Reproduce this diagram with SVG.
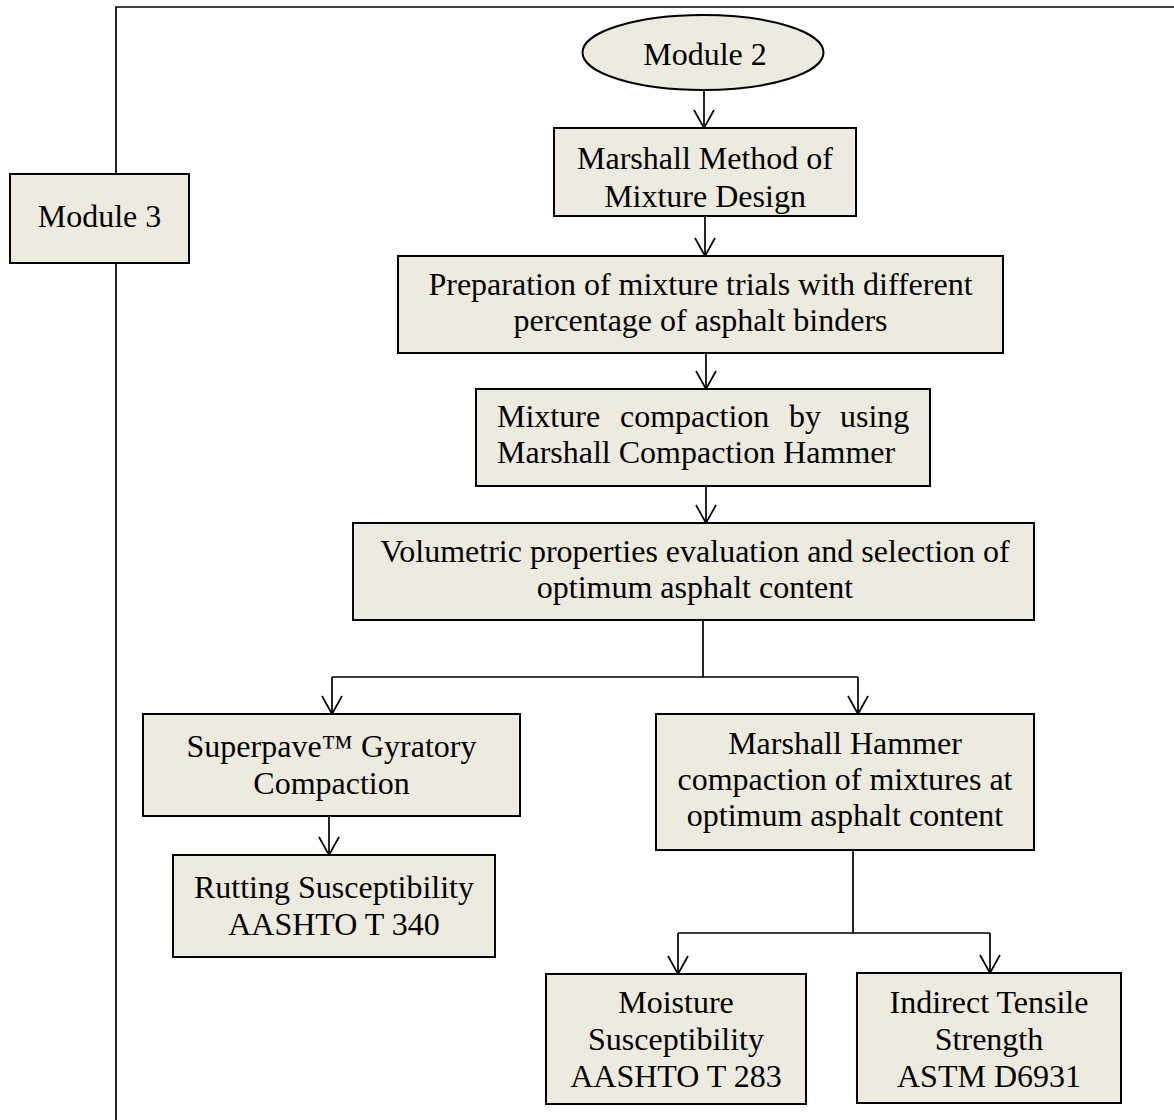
<svg xmlns="http://www.w3.org/2000/svg" width="1174" height="1120" viewBox="0 0 1174 1120">
  <style>
    .box { fill: #EDEBE0; stroke: #000; stroke-width: 2; }
    .t { font-family: "Liberation Serif", "Times New Roman", serif; font-size: 32px; fill: #000; text-anchor: middle; }
    .ts { text-anchor: start; }
    .ln { fill: none; stroke: #000; stroke-width: 1.7; }
  </style>
  <defs>
    <marker id="vhead" markerUnits="userSpaceOnUse" viewBox="-20 -12 22 24" refX="0" refY="0" markerWidth="22" markerHeight="24" orient="auto">
      <path d="M -18 -10 L 0 0 L -18 10" fill="none" stroke="#000" stroke-width="1.7"/>
    </marker>
    <clipPath id="clip-marshall">
      <rect x="555" y="129" width="300" height="85"/>
    </clipPath>
  </defs>

  <rect width="1174" height="1120" fill="#fff"/>

  <!-- outer frame for module 3 -->
  <path class="ln" d="M116 1120 V7 H1174" stroke-width="2"/>

  <g id="connectors">
    <line class="ln" x1="704" y1="90" x2="704" y2="128" marker-end="url(#vhead)"/>
    <line class="ln" x1="705" y1="216" x2="705" y2="256" marker-end="url(#vhead)"/>
    <line class="ln" x1="706" y1="353" x2="706" y2="389" marker-end="url(#vhead)"/>
    <line class="ln" x1="706" y1="486" x2="706" y2="523" marker-end="url(#vhead)"/>
    <path class="ln" d="M703 620 V677 M332 677 H858"/>
    <line class="ln" x1="332" y1="677" x2="332" y2="714" marker-end="url(#vhead)"/>
    <line class="ln" x1="858" y1="677" x2="858" y2="714" marker-end="url(#vhead)"/>
    <line class="ln" x1="329" y1="816" x2="329" y2="855" marker-end="url(#vhead)"/>
    <path class="ln" d="M853 850 V933 M678 933 H990"/>
    <line class="ln" x1="678" y1="933" x2="678" y2="974" marker-end="url(#vhead)"/>
    <line class="ln" x1="990" y1="933" x2="990" y2="973" marker-end="url(#vhead)"/>
  </g>

  <g id="module3">
    <rect class="box" x="10" y="174" width="179" height="89"/>
    <text class="t" x="99.5" y="227">Module 3</text>
  </g>

  <g id="module2">
    <ellipse class="box" cx="703" cy="52.5" rx="120.5" ry="37.5"/>
    <text class="t" x="705" y="65">Module 2</text>
  </g>

  <g id="marshall-method">
    <rect class="box" x="554" y="128" width="302" height="88"/>
    <g clip-path="url(#clip-marshall)">
      <text class="t" x="705" y="169">Marshall Method of</text>
      <text class="t" x="705" y="207">Mixture Design</text>
    </g>
  </g>

  <g id="preparation">
    <rect class="box" x="398" y="256" width="605" height="97"/>
    <text class="t" x="700.5" y="295">Preparation of mixture trials with different</text>
    <text class="t" x="700.5" y="331">percentage of asphalt binders</text>
  </g>

  <g id="compaction">
    <rect class="box" x="476" y="389" width="454" height="97"/>
    <!-- justified first line: words placed individually -->
    <text class="t ts" y="427"><tspan x="497">Mixture</tspan> <tspan x="620">compaction</tspan> <tspan x="789">by</tspan> <tspan x="840">using</tspan></text>
    <text class="t ts" x="497" y="463">Marshall Compaction Hammer</text>
  </g>

  <g id="volumetric">
    <rect class="box" x="353" y="523" width="681" height="97"/>
    <text class="t" x="695" y="562">Volumetric properties evaluation and selection of</text>
    <text class="t" x="695" y="598">optimum asphalt content</text>
  </g>

  <g id="superpave">
    <rect class="box" x="143" y="714" width="377" height="102"/>
    <text class="t" x="331.5" y="757">Superpave™ Gyratory</text>
    <text class="t" x="331.5" y="794">Compaction</text>
  </g>

  <g id="rutting">
    <rect class="box" x="173" y="855" width="322" height="102"/>
    <text class="t" x="334" y="898">Rutting Susceptibility</text>
    <text class="t" x="334" y="935">AASHTO T 340</text>
  </g>

  <g id="marshall-hammer">
    <rect class="box" x="656" y="714" width="378" height="136"/>
    <text class="t" x="845" y="754">Marshall Hammer</text>
    <text class="t" x="845" y="790">compaction of mixtures at</text>
    <text class="t" x="845" y="826">optimum asphalt content</text>
  </g>

  <g id="moisture">
    <rect class="box" x="546" y="974" width="260" height="130"/>
    <text class="t" x="676" y="1013">Moisture</text>
    <text class="t" x="676" y="1050">Susceptibility</text>
    <text class="t" x="676" y="1087">AASHTO T 283</text>
  </g>

  <g id="indirect-tensile">
    <rect class="box" x="857" y="973" width="264" height="130"/>
    <text class="t" x="989" y="1013">Indirect Tensile</text>
    <text class="t" x="989" y="1050">Strength</text>
    <text class="t" x="989" y="1087">ASTM D6931</text>
  </g>
</svg>
